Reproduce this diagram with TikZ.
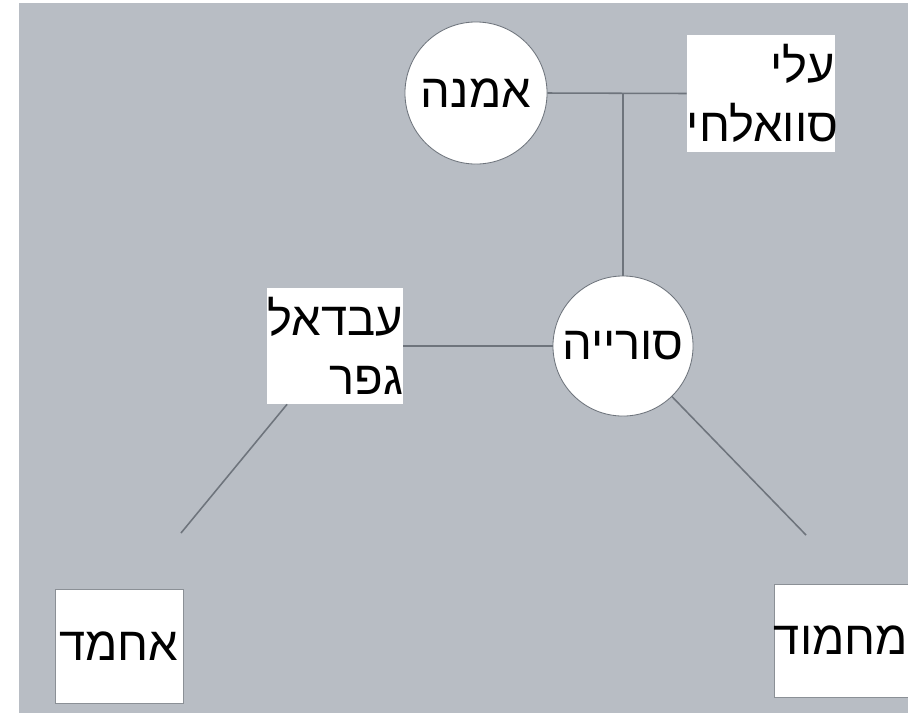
\documentclass[tikz,border=0pt]{standalone}
\usepackage{fontspec}
\newfontfamily\hebfont[Script=Hebrew]{Liberation Sans}
\TeXXeTstate=1
\begin{document}
\begin{tikzpicture}[x=0.025cm,y=-0.025cm,
  person/.style={circle,fill=white,draw=rim,line width=0.6pt,inner sep=0pt,
    minimum size=3.5cm,font=\hebfont\fontsize{33.5}{42}\selectfont},
  namebox/.style={rectangle,fill=white,inner sep=0pt,
    font=\hebfont\fontsize{33.5}{42}\selectfont},
  link/.style={draw=rim,line width=1.1pt}]

\definecolor{paper}{RGB}{184,189,196}
\definecolor{rim}{RGB}{110,116,124}

\useasboundingbox (0,0) rectangle (908,713);
\fill[paper] (19,3) rectangle (908,713);

\node[person,minimum size=3.55cm] (amna) at (476,93) {\beginR אמנה\endR};
\node[namebox,align=right,text width=3.7cm,minimum height=2.925cm] (ali) at (761,93.5)
  {\beginR עלי\endR\\\beginR סוואלחי\endR};
\node[person] (suriya) at (623,346) {\beginR סורייה\endR};
\node[namebox,align=right,text width=3.4cm,minimum height=2.9cm] (abdal) at (335,346)
  {\beginR עבדאל\endR\\\beginR גפר\endR};
\node[namebox,draw=rim!80,align=center,minimum width=3.2cm,minimum height=2.85cm] (ahmad) at (119,646)
  {\beginR אחמד\endR};
\node[namebox,draw=rim!80,align=center,minimum width=3.15cm,minimum height=2.825cm] (mahmoud) at (841,640.5)
  {\beginR מחמוד\endR};

\coordinate (ahmadend) at (181,533);
\coordinate (mahmoudend) at (806,535);

\draw[link] (amna.east) -- (ali.west);
\draw[link] (suriya.north) -- (suriya.north |- amna.east);
\draw[link] (abdal.east) -- (suriya.west);
\draw[link] (abdal) -- (ahmadend);
\draw[link] (suriya) -- (mahmoudend);

\end{tikzpicture}
\end{document}
